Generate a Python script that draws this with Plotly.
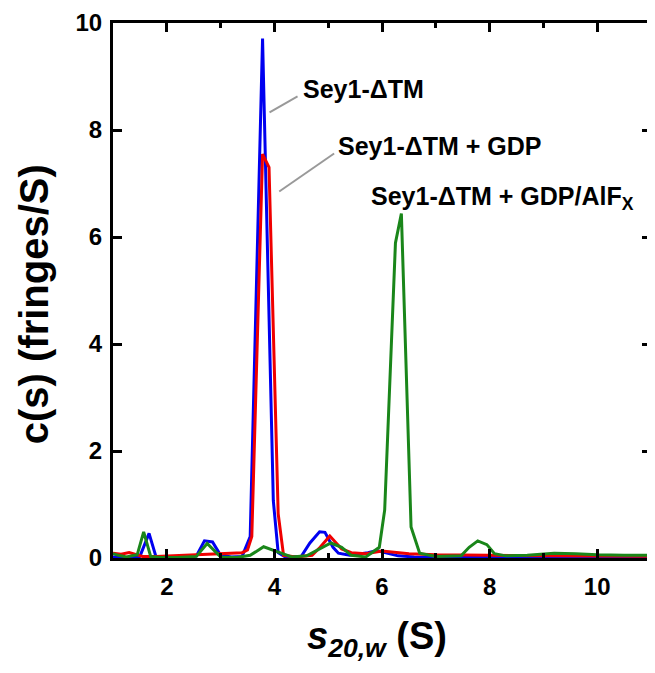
import plotly.graph_objects as go

# Sey1-ΔTM (blue)
s_apo = [1.0, 1.2, 1.4, 1.5, 1.67, 1.8, 2.0, 2.3, 2.55, 2.7, 2.85, 3.0, 3.2, 3.4, 3.55, 3.78, 3.98, 4.07, 4.2, 4.5,
         4.66, 4.84, 4.94, 5.09, 5.19, 5.4, 5.74, 5.9, 6.05, 6.3, 6.6, 7.0, 8.0, 9.0, 10.0, 11.0]
c_apo = [0.02, 0.02, 0.01, 0.03, 0.46, 0.02, 0.01, 0.01, 0.04, 0.32, 0.30, 0.05, 0.02, 0.03, 0.4, 9.71, 1.07, 0.1, 0.02, 0.03,
         0.28, 0.49, 0.48, 0.2, 0.09, 0.05, 0.1, 0.14, 0.1, 0.04, 0.02, 0.01, 0.01, 0.0, 0.01, 0.0]

# Sey1-ΔTM + GDP (red)
s_gdp = [1.0, 1.15, 1.3, 1.45, 1.55, 1.8, 2.2, 2.6, 3.0, 3.4, 3.5, 3.58, 3.78, 3.9, 4.07, 4.17, 4.4, 4.7, 4.85, 5.03,
         5.25, 5.43, 5.7, 6.0, 6.5, 7.0, 8.0, 9.0, 10.0, 11.0]
c_gdp = [0.09, 0.07, 0.1, 0.05, 0.03, 0.03, 0.05, 0.07, 0.09, 0.1, 0.15, 0.4, 7.55, 7.3, 0.83, 0.05, 0.02, 0.05, 0.2, 0.41,
         0.17, 0.1, 0.08, 0.13, 0.08, 0.06, 0.05, 0.04, 0.03, 0.03]

# Sey1-ΔTM + GDP/AlFx (green)
s_alf = [1.0, 1.1, 1.25, 1.45, 1.57, 1.70, 1.9, 2.2, 2.55, 2.75, 3.0, 3.3, 3.55, 3.8, 4.05, 4.32, 4.6, 4.8, 5.05, 5.25,
         5.43, 5.7, 5.95, 6.05, 6.25, 6.36, 6.54, 6.70, 7.0, 7.47, 7.62, 7.78, 7.95, 8.09, 8.3, 8.7, 9.2, 9.6, 10.0, 10.5, 11.0]
c_alf = [0.08, 0.05, 0.02, 0.06, 0.49, 0.03, 0.01, 0.01, 0.03, 0.27, 0.02, 0.01, 0.05, 0.21, 0.12, 0.02, 0.04, 0.15, 0.28, 0.2,
         0.05, 0.02, 0.2, 0.9, 5.89, 6.44, 0.58, 0.09, 0.03, 0.04, 0.2, 0.32, 0.25, 0.08, 0.04, 0.05, 0.09, 0.08, 0.06, 0.05, 0.05]

series_names = ["Sey1-ΔTM", "Sey1-ΔTM + GDP", "Sey1-ΔTM + GDP/AlF<sub>X</sub>"]
x_ticks = [2, 4, 6, 8, 10]
y_ticks = [0, 2, 4, 6, 8, 10]

FONT = "Liberation Sans, Arial, sans-serif"

fig = go.Figure()
for s, c, col, nm in [(s_apo, c_apo, "#0000f0", series_names[0]),
                      (s_gdp, c_gdp, "#f00000", series_names[1]),
                      (s_alf, c_alf, "#1a861a", series_names[2])]:
    fig.add_trace(go.Scatter(x=s, y=c, mode="lines", name=nm,
                             line=dict(color=col, width=3)))

# labels
lab_pos = [(4.5, 8.76), (5.15, 7.70), (5.76, 6.72)]
for (lx, ly), nm in zip(lab_pos, series_names):
    fig.add_annotation(x=lx, y=ly, xref="x", yref="y", text="<b>" + nm + "</b>",
                       showarrow=False, xanchor="left", yanchor="middle",
                       font=dict(family=FONT, size=25, color="black"))

# leader lines
for x0, y0, x1, y1 in [(3.91, 8.33, 4.43, 8.63), (4.09, 6.85, 5.11, 7.56)]:
    fig.add_shape(type="line", x0=x0, y0=y0, x1=x1, y1=y1, xref="x", yref="y",
                  line=dict(color="#999999", width=2))

# axis titles
fig.add_annotation(x=-0.148, y=0.475, xref="paper", yref="paper", textangle=-90,
                   text="<b>c(s) (fringes/S)</b>", showarrow=False,
                   xanchor="center", yanchor="middle",
                   font=dict(family=FONT, size=40, color="black"))
fig.add_annotation(x=0.49, y=-0.152, xref="paper", yref="paper",
                   text="<b><i>s</i><sub><i>20,w</i></sub> (S)</b>", showarrow=False,
                   xanchor="center", yanchor="middle",
                   font=dict(family=FONT, size=38, color="black"))

axis_common = dict(showline=True, linecolor="black", linewidth=3, mirror="ticks",
                   ticks="inside", ticklen=9, tickwidth=2.5, tickcolor="black",
                   showgrid=False, zeroline=False, ticklabeloverflow="allow",
                   tickfont=dict(family=FONT, size=24, color="black", weight="bold"))

fig.update_xaxes(range=[1, 11], tickvals=x_ticks, ticklabelstandoff=5,
                 minor=dict(ticks="inside", ticklen=5, tickwidth=2.5, dtick=1, tick0=1, tickcolor="black"),
                 **axis_common)
fig.update_yaxes(range=[0, 10], tickvals=y_ticks, ticklabelstandoff=3, **axis_common)

# page body adds an 8 px margin, so the figure is offset by 8 px
fig.update_layout(width=647, height=665, showlegend=False,
                  margin=dict(l=105, r=1, t=10, b=115),
                  plot_bgcolor="white", paper_bgcolor="white")

fig.write_html("out.html")
